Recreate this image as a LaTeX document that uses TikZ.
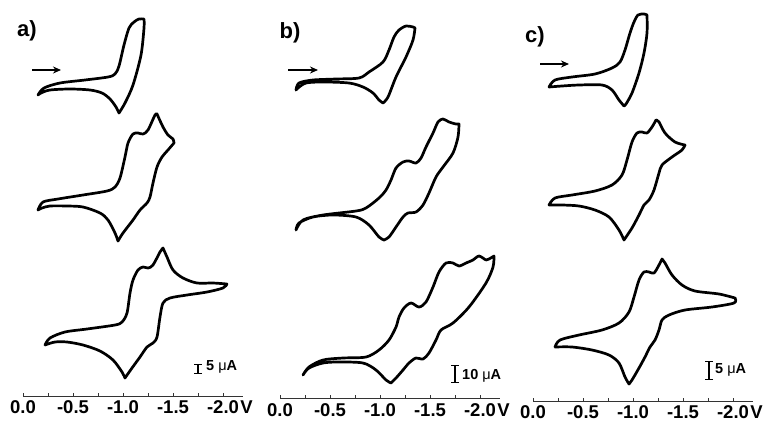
\documentclass[tikz,border=0pt]{standalone}
\usepackage{fontspec}
\setmainfont{Liberation Sans}
\usetikzlibrary{positioning,calc,arrows.meta}

\begin{document}
\begin{tikzpicture}
  [x=1pt, y=-1pt,
   cv/.style={line width=2.7pt, line join=round, line cap=round},
   axisline/.style={line width=0.9pt, black!80},
   ticklabel/.style={font=\fontsize{18.5}{18.5}\selectfont\bfseries, inner sep=0pt, anchor=center},
   unitlabel/.style={font=\fontsize{18.5}{18.5}\selectfont\bfseries, inner sep=0pt, anchor=west},
   paneltitle/.style={font=\fontsize{22}{22}\selectfont\bfseries, inner sep=0pt},
   scanarrow/.style={line width=1.9pt, -{Stealth[length=8pt,width=7pt]}},
   scalebar/.style={line width=1.2pt, {Bar[width=8pt]}-{Bar[width=8pt]}},
   scaletext/.style={font=\fontsize{14.5}{14.5}\selectfont\bfseries, inner sep=0pt, anchor=west}
  ]
  \useasboundingbox (0,0) rectangle (768,424);

  % pannello a
  \node [paneltitle] (titlea) at (27,31) {a)};
  \coordinate (arrowastart) at (32,70);
  \coordinate (arrowaend) at (61,70);
  \draw [scanarrow] (arrowastart) -- (arrowaend);

  \draw [cv] plot[smooth] coordinates {(38,95) (44,88) (60,83) (85,80) (108,77) (115,74) (119,66) (124,45) (129,28) (134,22) (139,19) (144,19)}
    -- plot[smooth] coordinates {(144,19) (144,28) (141,55) (133,85) (125,103) (119,113)}
    -- plot[smooth] coordinates {(119,113) (116,107) (110,99) (102,93) (90,90) (70,89) (50,90) (41,93) (38,95)};

  \draw [cv] plot[smooth] coordinates {(38,210) (43,202) (58,199) (83,195) (107,191) (115,187) (120,178) (125,157) (128,143) (133,134) (138,133) (143,134) (148,130) (155,115) (157,114)}
    -- plot[smooth] coordinates {(157,114) (163,127) (168,135) (173,139) (174,143)}
    -- plot[smooth] coordinates {(174,143) (168,150) (162,157) (157,167) (153,183) (150,197) (147,203) (140,210) (133,220) (123,233) (118,241)}
    -- plot[smooth] coordinates {(118,241) (115,233) (108,220) (100,213) (83,207) (67,206) (50,206) (42,208) (38,210)};

  \draw [cv] plot[smooth] coordinates {(45,345) (50,338) (65,332) (87,329) (115,325) (122,322) (127,313) (130,293) (133,280) (138,270) (143,267) (148,268) (153,265) (160,252) (163,248)}
    -- plot[smooth] coordinates {(163,248) (167,257) (173,270) (183,278) (197,283) (213,283) (227,284)}
    -- plot[smooth] coordinates {(227,284) (223,288) (207,292) (187,295) (170,298) (163,303) (160,317) (157,337) (153,343) (147,347) (140,357) (132,368) (125,378)}
    -- plot[smooth] coordinates {(125,378) (122,372) (113,360) (100,351) (83,345) (67,342) (55,342) (45,345)};

  \coordinate (barabottom) at (198,374);
  \coordinate (baratop) at (198,364);
  \draw [scalebar] (barabottom) -- (baratop);
  \node [scaletext] (scalea) at (206,367) {5 {\mdseries μ}A};

  \draw [axisline] (23,396) coordinate (axisastart) -- (243,396) coordinate (axisaend);
  \foreach \i in {0,...,8}
    \draw [axisline] ($(axisastart)+(\i*25,0)$) -- ++(0,-3);
  \foreach \i/\v in {0/0.0,1/-0.5,2/-1.0,3/-1.5,4/-2.0}
    \node [ticklabel] (ticka\i) at ($(axisastart)+(\i*50,11.5)$) {\v};
  \node [unitlabel] (unita) at ($(ticka4.east)+(1,0)$) {V};

  % pannello b
  \node [paneltitle] (titleb) at (290,33) {b)};
  \coordinate (arrowbstart) at (288,70);
  \coordinate (arrowbend) at (318,70);
  \draw [scanarrow] (arrowbstart) -- (arrowbend);

  \draw [cv] plot[smooth] coordinates {(296,90) (299,83) (313,80) (336,79) (359,78) (369,72) (383,62) (389,50) (394,37) (399,30) (406,26) (413,27) (415,28)}
    -- plot[smooth] coordinates {(415,28) (413,40) (406,57) (396,77) (388,97) (383,103)}
    -- plot[smooth] coordinates {(383,103) (379,100) (373,93) (363,87) (349,83) (323,82) (306,83) (298,88) (296,90)};

  \draw [cv] plot[smooth] coordinates {(296,230) (303,220) (323,215) (356,211) (366,208) (379,198) (386,190) (391,180) (396,168) (403,162) (409,161) (416,163) (421,158) (426,147) (433,133) (438,122) (443,119) (449,122) (456,124) (459,124)}
    -- plot[smooth] coordinates {(459,124) (458,137) (453,153) (443,167) (436,177) (429,193) (423,205) (416,212) (408,213) (403,217) (396,227) (389,237) (384,240)}
    -- plot[smooth] coordinates {(384,240) (379,237) (369,225) (356,217) (333,215) (313,217) (299,223) (296,230)};

  \draw [cv] plot[smooth] coordinates {(303,375) (309,367) (323,360) (343,358) (366,357) (379,350) (389,340) (396,327) (399,317) (404,308) (411,303) (419,307) (426,302) (433,287) (439,272) (446,263) (453,263) (459,266) (466,263) (473,260) (479,256) (486,260) (489,259) (494,256)}
    -- plot[smooth] coordinates {(494,256) (493,267) (486,283) (469,307) (453,323) (441,330) (436,340) (429,353) (423,359) (416,358) (409,363) (403,370) (396,378) (391,383)}
    -- plot[smooth] coordinates {(391,383) (386,380) (376,370) (363,363) (339,362) (323,363) (309,368) (303,375)};

  \coordinate (barbbottom) at (455,383);
  \coordinate (barbtop) at (455,365);
  \draw [scalebar] (barbbottom) -- (barbtop);
  \node [scaletext] (scaleb) at (462,376) {10 {\mdseries μ}A};

  \draw [axisline] (280,398) coordinate (axisbstart) -- (500,398) coordinate (axisbend);
  \foreach \i in {0,...,8}
    \draw [axisline] ($(axisbstart)+(\i*25,0)$) -- ++(0,-3);
  \foreach \i/\v in {0/0.0,1/-0.5,2/-1.0,3/-1.5,4/-2.0}
    \node [ticklabel] (tickb\i) at ($(axisbstart)+(\i*50,12.5)$) {\v};
  \node [unitlabel] (unitb) at ($(tickb4.east)+(1,0)$) {V};

  % pannello c
  \node [paneltitle] (titlec) at (535,37) {c)};
  \coordinate (arrowcstart) at (540,64);
  \coordinate (arrowcend) at (569,64);
  \draw [scanarrow] (arrowcstart) -- (arrowcend);

  \draw [cv] plot[smooth] coordinates {(549,87) (555,80) (572,77) (595,74) (612,68) (620,62) (625,50) (630,33) (634,22) (638,15) (644,14) (647,15)}
    -- plot[smooth] coordinates {(647,15) (647,33) (644,53) (639,73) (632,93) (626,104) (624,106)}
    -- plot[smooth] coordinates {(624,106) (619,100) (612,90) (602,85) (579,85) (562,86) (549,87)};

  \draw [cv] plot[smooth] coordinates {(549,205) (555,198) (572,195) (595,191) (612,185) (622,175) (627,160) (632,142) (637,133) (642,132) (647,133) (652,127) (656,120)}
    -- plot[smooth] coordinates {(656,120) (659,122) (665,133) (675,142) (685,145)}
    -- plot[smooth] coordinates {(685,145) (682,150) (672,157) (662,165) (659,173) (654,190) (649,200) (644,205) (639,215) (632,228) (624,240)}
    -- plot[smooth] coordinates {(624,240) (619,230) (609,217) (595,210) (579,206) (562,205) (549,205)};

  \draw [cv] plot[smooth] coordinates {(555,347) (560,340) (579,335) (602,330) (619,323) (629,312) (634,297) (639,280) (644,272) (649,272) (654,273) (659,265) (662,259)}
    -- plot[smooth] coordinates {(662,259) (665,263) (672,275) (682,285) (695,291) (719,294) (735,298)}
    -- plot[smooth] coordinates {(735,298) (734,303) (712,307) (685,310) (669,315) (662,320) (659,330) (655,340) (650,347) (645,357) (639,368) (632,380) (629,384)}
    -- plot[smooth] coordinates {(629,384) (625,377) (619,363) (609,355) (592,350) (572,347) (555,347)};

  \coordinate (barcbottom) at (709,380);
  \coordinate (barctop) at (709,361);
  \draw [scalebar] (barcbottom) -- (barctop);
  \node [scaletext] (scalec) at (715,370) {5 {\mdseries μ}A};

  \draw [axisline] (533,401) coordinate (axiscstart) -- (753,401) coordinate (axiscend);
  \foreach \i in {0,...,8}
    \draw [axisline] ($(axiscstart)+(\i*25,0)$) -- ++(0,-3);
  \foreach \i/\v in {0/0.0,1/-0.5,2/-1.0,3/-1.5,4/-2.0}
    \node [ticklabel] (tickc\i) at ($(axiscstart)+(\i*50,11)$) {\v};
  \node [unitlabel] (unitc) at ($(tickc4.east)+(1,0)$) {V};
\end{tikzpicture}
\end{document}
